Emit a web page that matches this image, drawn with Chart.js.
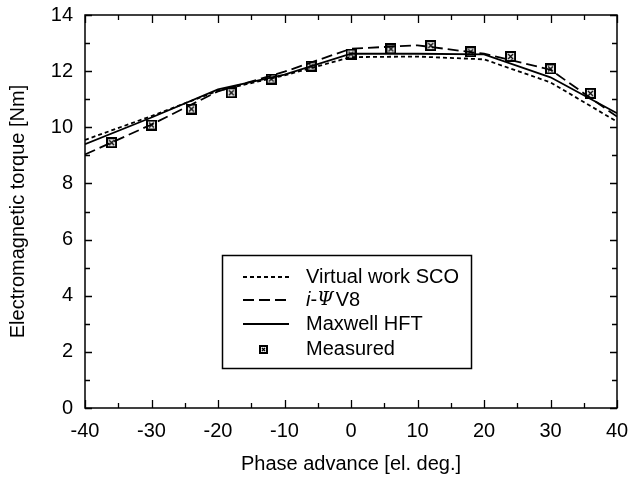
<!DOCTYPE html>
<html>
<head>
<meta charset="utf-8">
<script src="https://cdn.jsdelivr.net/npm/chart.js@4.4.1/dist/chart.umd.min.js"></script>
<style>
  html, body { margin: 0; padding: 0; background: #fff; }
  #wrap { width: 628px; height: 480px; }
</style>
</head>
<body>
<div id="wrap"><canvas id="torqueChart" width="628" height="480"></canvas></div>
<script>
// --- data --- //
const phase = [-40, -30, -20, -10, 0, 10, 20, 30, 40];
const virtualWorkSCO = [9.55, 10.4, 11.3, 11.85, 12.5, 12.52, 12.42, 11.6, 10.2];
const iPsiV8 = [9.03, 10.1, 11.28, 11.98, 12.8, 12.92, 12.62, 12.05, 10.38];
const maxwellHFT = [9.4, 10.35, 11.35, 11.88, 12.62, 12.62, 12.6, 11.78, 10.5];

const measuredPhase = [-36, -30, -24, -18, -12, -6, 0, 6, 12, 18, 24, 30, 36];
const measuredTorque = [9.45, 10.08, 10.65, 11.23, 11.72, 12.18, 12.61, 12.79, 12.91, 12.69, 12.52, 12.08, 11.21];

const xTickValues = [-40, -30, -20, -10, 0, 10, 20, 30, 40];
const yTickValues = [0, 2, 4, 6, 8, 10, 12, 14];

const seriesNames = ['Virtual work SCO', 'i-\u03A8 V8', 'Maxwell HFT', 'Measured'];

const FONT = "'Liberation Sans', Arial, Helvetica, sans-serif";
const FS = 20;

const toPoints = (xs, ys) => xs.map((x, i) => ({ x, y: ys[i] }));

// boxed-x marker used for the measured points
function boxedCross(size) {
    const c = document.createElement('canvas');
    c.width = size; c.height = size;
    const g = c.getContext('2d');
    g.fillStyle = '#eeeeee';
    g.fillRect(0, 0, size, size);
    g.strokeStyle = '#000';
    g.lineWidth = 2;
    g.strokeRect(1, 1, size - 2, size - 2);
    g.lineWidth = 1.3;
    g.beginPath();
    g.moveTo(3, 3); g.lineTo(size - 3, size - 3);
    g.moveTo(size - 3, 3); g.lineTo(3, size - 3);
    g.stroke();
    return c;
}

// frame with inward ticks on all four sides
const frameTicks = {
    id: 'frameTicks',
    afterDraw(chart) {
        const { ctx, chartArea: a, scales: { x, y } } = chart;
        ctx.save();
        ctx.strokeStyle = '#000';
        ctx.lineWidth = 1.5;
        ctx.strokeRect(a.left, a.top, a.right - a.left, a.bottom - a.top);
        ctx.lineWidth = 1.3;
        ctx.beginPath();
        for (let v = -40; v <= 40; v += 5) {
            const px = Math.round(x.getPixelForValue(v)) + 0.5;
            const len = v % 10 === 0 ? 8 : 5;
            ctx.moveTo(px, a.bottom); ctx.lineTo(px, a.bottom - len);
            ctx.moveTo(px, a.top); ctx.lineTo(px, a.top + len);
        }
        for (let v = 0; v <= 14; v += 1) {
            const py = Math.round(y.getPixelForValue(v)) + 0.5;
            const len = v % 2 === 0 ? 7 : 5;
            ctx.moveTo(a.left, py); ctx.lineTo(a.left + len, py);
            ctx.moveTo(a.right, py); ctx.lineTo(a.right - len, py);
        }
        ctx.stroke();
        ctx.restore();
    }
};

// legend box inside the plot
const boxLegend = {
    id: 'boxLegend',
    afterDraw(chart) {
        const { ctx } = chart;
        const left = 222, top = 255, width = 249, height = 113;
        ctx.save();
        ctx.fillStyle = '#fff';
        ctx.fillRect(left, top, width, height);
        ctx.strokeStyle = '#000';
        ctx.lineWidth = 1.5;
        ctx.strokeRect(left + 0.5, top + 0.5, width, height);

        const rowsY = [277, 300, 324, 349];
        const textX = 306;
        chart.data.datasets.forEach((ds, i) => {
            const yy = rowsY[i];
            if (ds.showLine) {
                ctx.strokeStyle = '#000';
                ctx.lineWidth = ds.borderWidth;
                ctx.setLineDash(ds.borderDash || []);
                ctx.beginPath();
                ctx.moveTo(243, yy); ctx.lineTo(289, yy);
                ctx.stroke();
                ctx.setLineDash([]);
            } else {
                ctx.drawImage(legendMarker, 263 - 4, yy - 4);
            }
            ctx.fillStyle = '#000';
            ctx.textBaseline = 'middle';
            ctx.textAlign = 'left';
            if (i === 1) {
                let cx = textX;
                const parts = [
                    ['i', 'italic ' + FS + 'px ' + FONT],
                    ['-', FS + 'px ' + FONT],
                    ['\u03A8', "italic " + (FS - 1) + "px 'DejaVu Serif', serif"],
                    ['V8', FS + 'px ' + FONT]
                ];
                parts.forEach(([t, f]) => {
                    ctx.font = f;
                    ctx.fillText(t, cx, yy);
                    cx += ctx.measureText(t).width + (t === '\u03A8' ? 2 : 0);
                });
            } else {
                ctx.font = FS + 'px ' + FONT;
                ctx.fillText(ds.label, textX, yy);
            }
        });
        ctx.restore();
    }
};

const marker = boxedCross(11);
const legendMarker = boxedCross(9);

new Chart(document.getElementById('torqueChart'), {
    type: 'scatter',
    data: {
        datasets: [
            { label: seriesNames[0], data: toPoints(phase, virtualWorkSCO), showLine: true, borderColor: '#000', borderWidth: 1.8, borderDash: [4, 3], pointRadius: 0, tension: 0 },
            { label: seriesNames[1], data: toPoints(phase, iPsiV8), showLine: true, borderColor: '#000', borderWidth: 1.8, borderDash: [11, 5], pointRadius: 0, tension: 0 },
            { label: seriesNames[2], data: toPoints(phase, maxwellHFT), showLine: true, borderColor: '#000', borderWidth: 1.8, pointRadius: 0, tension: 0 },
            { label: seriesNames[3], data: toPoints(measuredPhase, measuredTorque), showLine: false, pointStyle: marker, pointRadius: 6 }
        ]
    },
    options: {
        responsive: false,
        animation: false,
        layout: { padding: { top: 15, right: 11, left: 0, bottom: 0 } },
        plugins: { legend: { display: false }, tooltip: { enabled: false } },
        scales: {
            x: {
                type: 'linear', min: -40, max: 40,
                afterBuildTicks: s => { s.ticks = xTickValues.map(v => ({ value: v })); },
                afterFit: s => { s.height = 72; s.paddingLeft = 0; s.paddingRight = 0; },
                grid: { display: false, drawTicks: false },
                border: { display: false },
                ticks: { color: '#000', padding: 11, maxRotation: 0, font: { family: FONT, size: FS } },
                title: { display: true, text: 'Phase advance [el. deg.]', color: '#000', padding: { top: 16 }, font: { family: FONT, size: FS } }
            },
            y: {
                type: 'linear', min: 0, max: 14,
                afterBuildTicks: s => { s.ticks = yTickValues.map(v => ({ value: v })); },
                afterFit: s => { s.width = 85; s.paddingTop = 0; s.paddingBottom = 0; },
                grid: { display: false, drawTicks: false },
                border: { display: false },
                ticks: { color: '#000', padding: 12, font: { family: FONT, size: FS } },
                title: { display: true, text: 'Electromagnetic torque [Nm]', color: '#000', padding: { top: 6, bottom: 6 }, font: { family: FONT, size: FS } }
            }
        }
    },
    plugins: [frameTicks, boxLegend]
});
</script>
</body>
</html>
